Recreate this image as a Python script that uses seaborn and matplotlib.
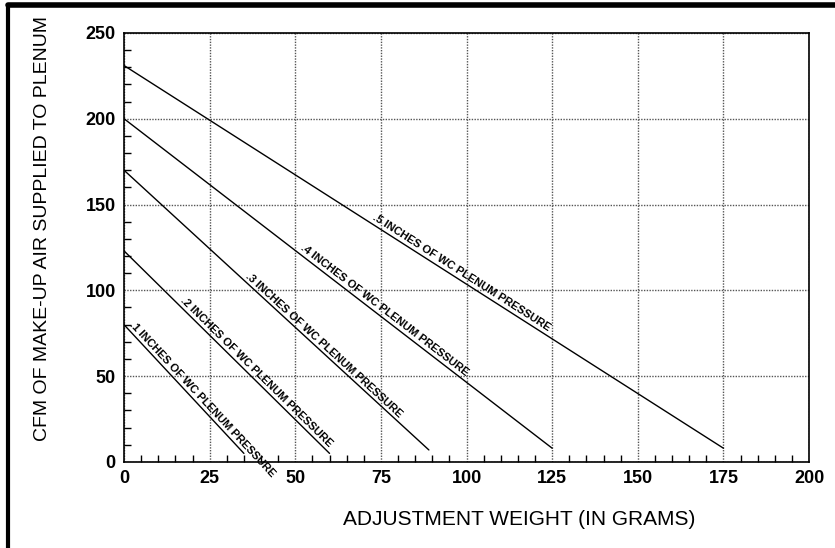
import numpy as np
import pandas as pd
import matplotlib
matplotlib.use("Agg")
import matplotlib.pyplot as plt
import seaborn as sns
from matplotlib.ticker import MultipleLocator

# ---- data ----
pressures = [".1", ".2", ".3", ".4", ".5"]
start_weight = [0, 0, 0, 0, 0]
end_weight = [35, 60, 89, 125, 175]
start_cfm = [80, 123, 170, 200, 231]
end_cfm = [5, 5, 7, 8, 8]
label_weight = [1, 16, 35, 51, 72]   # where each curve label starts
x_ticks = [0, 25, 50, 75, 100, 125, 150, 175, 200]
y_ticks = [0, 50, 100, 150, 200, 250]

rows = []
for p, x0, x1, y0, y1 in zip(pressures, start_weight, end_weight, start_cfm, end_cfm):
    rows.append({"pressure": p, "weight": x0, "cfm": y0})
    rows.append({"pressure": p, "weight": x1, "cfm": y1})
df = pd.DataFrame(rows)

sns.set_theme(style="white")
plt.rcParams["font.family"] = ["Liberation Sans", "DejaVu Sans"]

fig = plt.figure(figsize=(8.35, 5.48), dpi=100)
ax = fig.add_axes([0.1485, 0.157, 0.8205, 0.783])

sns.lineplot(data=df, x="weight", y="cfm", units="pressure", estimator=None,
             color="black", linewidth=1.0, ax=ax, legend=False)

ax.set_xlim(0, 200)
ax.set_ylim(0, 250)
ax.set_xticks(x_ticks)
ax.set_yticks(y_ticks)
ax.xaxis.set_minor_locator(MultipleLocator(5))
ax.yaxis.set_minor_locator(MultipleLocator(10))
ax.tick_params(which="minor", direction="in", length=5, width=1, color="black",
               bottom=True, left=True, top=False, right=False)
ax.tick_params(which="major", direction="in", length=0, pad=6,
               labelsize=13, labelcolor="black")
for lab in ax.get_xticklabels() + ax.get_yticklabels():
    lab.set_fontweight("bold")
ax.grid(True, which="major", color="#555555", linestyle=(0, (1, 1)), linewidth=1.0)
for s in ax.spines.values():
    s.set_color("black")
    s.set_linewidth(1.2)

ax.set_xlabel("ADJUSTMENT WEIGHT (IN GRAMS)", fontsize=15, color="black")
ax.xaxis.set_label_coords(0.577, -0.112)
ax.set_ylabel("CFM OF MAKE-UP AIR SUPPLIED TO PLENUM", fontsize=14, color="black")
ax.yaxis.set_label_coords(-0.107, 0.545)

# curve labels, rotated along each line
fig.canvas.draw()
for p, x0, x1, y0, y1, lx in zip(pressures, start_weight, end_weight, start_cfm, end_cfm, label_weight):
    slope = (y1 - y0) / (x1 - x0)
    ly = y0 + slope * (lx - x0)
    p0 = ax.transData.transform((x0, y0))
    p1 = ax.transData.transform((x1, y1))
    ang = np.degrees(np.arctan2(p1[1] - p0[1], p1[0] - p0[0]))
    ax.annotate(f"{p} INCHES OF WC PLENUM PRESSURE", xy=(lx, ly), xytext=(0, 1.5),
                textcoords="offset points", rotation=ang, rotation_mode="anchor",
                ha="left", va="bottom", fontsize=8, fontweight="bold", color="black",
                annotation_clip=False)

# thick frame on top and left of the figure
fig.add_artist(plt.Line2D([0.0095, 1.0], [0.991, 0.991], transform=fig.transFigure, color="black", linewidth=4))
fig.add_artist(plt.Line2D([0.0095, 0.0095], [0.0, 0.991], transform=fig.transFigure, color="black", linewidth=3))

fig.savefig("out.png", dpi=100)
